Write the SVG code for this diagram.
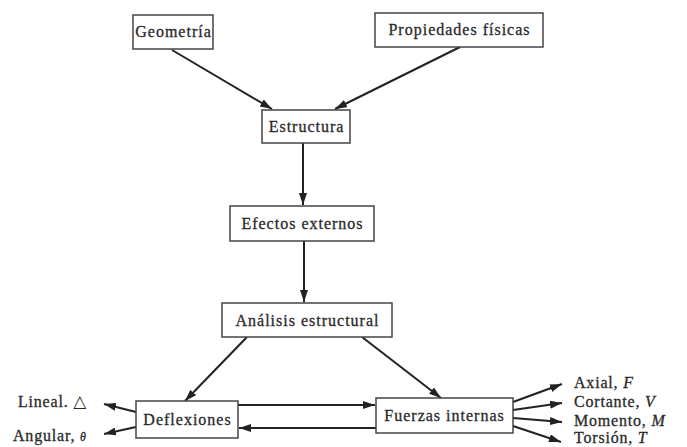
<svg xmlns="http://www.w3.org/2000/svg" width="687" height="447" viewBox="0 0 687 447">
<style>
.box{fill:#fff;stroke:#444;stroke-width:1.5}
.t{font-family:"Liberation Serif",serif;font-size:16px;fill:#2a2a2a;stroke:#2a2a2a;stroke-width:0.3px;text-anchor:middle;letter-spacing:1px}
.l{font-family:"Liberation Serif",serif;font-size:16px;fill:#2a2a2a;stroke:#2a2a2a;stroke-width:0.3px;letter-spacing:0.8px}
.c{stroke:#222;stroke-width:2;fill:none;marker-end:url(#ah)}
</style>
<defs>
<marker id="ah" viewBox="0 0 12 8" refX="12" refY="4" markerWidth="12" markerHeight="8" markerUnits="userSpaceOnUse" orient="auto">
<path d="M0,0 L12,4 L0,8 Z" fill="#222"/>
</marker>
</defs>
<rect width="687" height="447" fill="#fff"/>
<g id="connectors">
<line class="c" x1="172" y1="50" x2="272" y2="109"/>
<line class="c" x1="460" y1="47" x2="335" y2="109"/>
<line class="c" x1="303" y1="143" x2="303" y2="205"/>
<line class="c" x1="304" y1="241" x2="304" y2="302"/>
<line class="c" x1="247" y1="337" x2="185" y2="401"/>
<line class="c" x1="362" y1="337" x2="441" y2="398"/>
<line class="c" x1="238" y1="405" x2="375" y2="405"/>
<line class="c" x1="376" y1="428" x2="239" y2="428"/>
<line class="c" x1="136" y1="412" x2="104" y2="404"/>
<line class="c" x1="136" y1="427" x2="104" y2="434"/>
<line class="c" x1="513" y1="402" x2="562" y2="384"/>
<line class="c" x1="513" y1="410" x2="562" y2="403"/>
<line class="c" x1="513" y1="418" x2="562" y2="422"/>
<line class="c" x1="513" y1="426" x2="561" y2="442"/>
</g>
<g id="geometria"><rect class="box" x="133" y="15" width="80" height="34"/><text class="t" x="173.5" y="37">Geometría</text></g>
<g id="propiedades"><rect class="box" x="375" y="13" width="168" height="34"/><text class="t" x="459.5" y="35">Propiedades físicas</text></g>
<g id="estructura"><rect class="box" x="262" y="110" width="88" height="33"/><text class="t" x="306.5" y="132">Estructura</text></g>
<g id="efectos"><rect class="box" x="230" y="206" width="144" height="35"/><text class="t" x="302.5" y="229">Efectos externos</text></g>
<g id="analisis"><rect class="box" x="222" y="303" width="170" height="34"/><text class="t" x="307.5" y="326">Análisis estructural</text></g>
<g id="deflexiones"><rect class="box" x="136" y="401" width="102" height="37"/><text class="t" x="187.5" y="425">Deflexiones</text></g>
<g id="fuerzas"><rect class="box" x="376" y="398" width="137" height="35"/><text class="t" x="444.5" y="421">Fuerzas internas</text></g>
<g id="labels">
<text class="l" x="18" y="407">Lineal. <tspan font-family="'DejaVu Sans',sans-serif" font-size="17" stroke-width="0">△</tspan></text>
<text class="l" x="13" y="441">Angular, <tspan font-style="italic" font-size="12">θ</tspan></text>
<text class="l" x="574" y="388">Axial, <tspan font-style="italic">F</tspan></text>
<text class="l" x="574" y="407">Cortante, <tspan font-style="italic">V</tspan></text>
<text class="l" x="574" y="426">Momento, <tspan font-style="italic">M</tspan></text>
<text class="l" x="574" y="443">Torsión, <tspan font-style="italic">T</tspan></text>
</g>
</svg>
